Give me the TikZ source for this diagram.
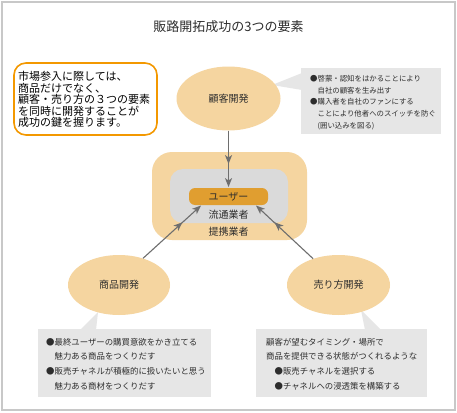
\documentclass[tikz,border=0pt]{standalone}
\usepackage{fontspec}
\setmainfont{Noto Sans CJK JP}
\usetikzlibrary{shapes.geometric}
\definecolor{lightorange}{RGB}{245,213,160}
\definecolor{userorange}{RGB}{224,158,48}
\definecolor{centergray}{RGB}{218,218,218}
\definecolor{calloutgray}{RGB}{230,230,230}
\definecolor{boxorange}{RGB}{243,152,0}
\definecolor{arrowgray}{RGB}{110,110,110}
\definecolor{bordergray}{RGB}{200,200,200}
\definecolor{txt}{RGB}{45,45,45}
\tikzset{
  devellipse/.style={ellipse, fill=lightorange, inner sep=0pt, minimum width=104pt, minimum height=62pt, text=txt, font=\fontsize{10}{12}\selectfont},
  callouttext/.style={anchor=west, inner sep=0pt, align=left, text=txt},
  conn/.style={draw=arrowgray, line width=1.1pt},
  headfill/.style={fill=arrowgray, draw=none},
  centertext/.style={text=txt, font=\fontsize{10}{12}\selectfont, inner sep=0pt}
}
\begin{document}
\begin{tikzpicture}[x=1pt,y=-1pt]
\useasboundingbox (0,0) rectangle (457,412);
\fill[white] (0,0) rectangle (457,412);
\draw[bordergray, line width=1.5pt] (2,2) rectangle (455,410);

% title
\node[text=txt, font=\fontsize{13}{15}\selectfont] (title) at (228.5,27) {販路開拓成功の3つの要素};

% left note box
\draw[boxorange, line width=1.6pt, rounded corners=12pt, fill=white] (14,63) rectangle (157,135);
\node[anchor=west, inner sep=0pt, align=left, text=black, font=\fontsize{11}{11.4}\selectfont] (note) at (18,99.5)
 {市場参入に際しては、\\商品だけでなく、\\顧客・売り方の３つの要素\\を同時に開発することが\\成功の鍵を握ります。};

% central boxes
\fill[lightorange, rounded corners=20pt] (152,152) rectangle (307,240);
\fill[centergray, rounded corners=13pt] (170,169) rectangle (288,223);
\node[fill=userorange, rounded corners=6pt, minimum width=79pt, minimum height=17pt, inner sep=0pt, text=txt, font=\fontsize{10}{12}\selectfont] (user) at (228.5,196.5) {ユーザー};
\node[centertext] (ryutsu) at (228.5,215) {流通業者};
\node[centertext] (teikei) at (228.5,231.5) {提携業者};

% callout tails
\fill[calloutgray] (272,85) -- (302,73) -- (302,90) -- cycle;
\fill[calloutgray] (98,312) -- (80,330) -- (96,330) -- cycle;
\fill[calloutgray] (361,310) -- (365,330) -- (381,330) -- cycle;

% callout boxes
\fill[calloutgray] (301,68) rectangle (441,134);
\fill[calloutgray] (38,329) rectangle (211,397);
\fill[calloutgray] (256,329) rectangle (427,397);

% ellipses
\node[devellipse, minimum height=64pt] (kokyaku) at (228.5,98.5) {顧客開発};
\node[devellipse, minimum width=102pt, minimum height=60pt] (shohin) at (119,285) {商品開発};
\node[devellipse, minimum width=103pt, minimum height=60pt] (urikata) at (338.5,285) {売り方開発};

% callout texts
\node[callouttext, font=\fontsize{7.4}{11.7}\selectfont] (c1) at (310,102.5)
 {●啓蒙・認知をはかることにより\\\hspace*{1em}自社の顧客を生み出す\\●購入者を自社のファンにする\\\hspace*{1em}ことにより他者へのスイッチを防ぐ\\\hspace*{1em}(囲い込みを図る)};
\node[callouttext, font=\fontsize{8.4}{14.6}\selectfont] (c2) at (46,364)
 {●最終ユーザーの購買意欲をかき立てる\\\hspace*{1em}魅力ある商品をつくりだす\\●販売チャネルが積極的に扱いたいと思う\\\hspace*{1em}魅力ある商材をつくりだす};
\node[callouttext, font=\fontsize{8.4}{14.6}\selectfont] (c3) at (266,364)
 {顧客が望むタイミング・場所で\\商品を提供できる状態がつくれるような\\\hspace*{1em}●販売チャネルを選択する\\\hspace*{1em}●チャネルへの浸透策を構築する};

% connectors: line from node to node, with a head midway and one at the end
\draw[conn] (kokyaku.south) -- (228.5,182);
\draw[conn] (shohin.48) -- (197.3,208.9);
\draw[conn] (urikata.134) -- (259.7,208.9);

% heads, top connector
\fill[headfill] (228.5,164) -- (224.9,155) -- (228.5,157.5) -- (232.1,155) -- cycle;
\fill[headfill] (228.5,187) -- (224.9,178) -- (228.5,180.5) -- (232.1,178) -- cycle;
% heads, left connector
\fill[headfill] (182.4,222.3) -- (178.14,231.01) -- (177.58,226.66) -- (173.30,225.67) -- cycle;
\fill[headfill] (201,205.5) -- (196.74,214.21) -- (196.18,209.86) -- (191.90,208.87) -- cycle;
% heads, right connector
\fill[headfill] (274.56,222.3) -- (283.66,225.67) -- (279.38,226.66) -- (278.82,231.01) -- cycle;
\fill[headfill] (256,205.5) -- (265.10,208.87) -- (260.82,209.86) -- (260.26,214.21) -- cycle;
\end{tikzpicture}
\end{document}
